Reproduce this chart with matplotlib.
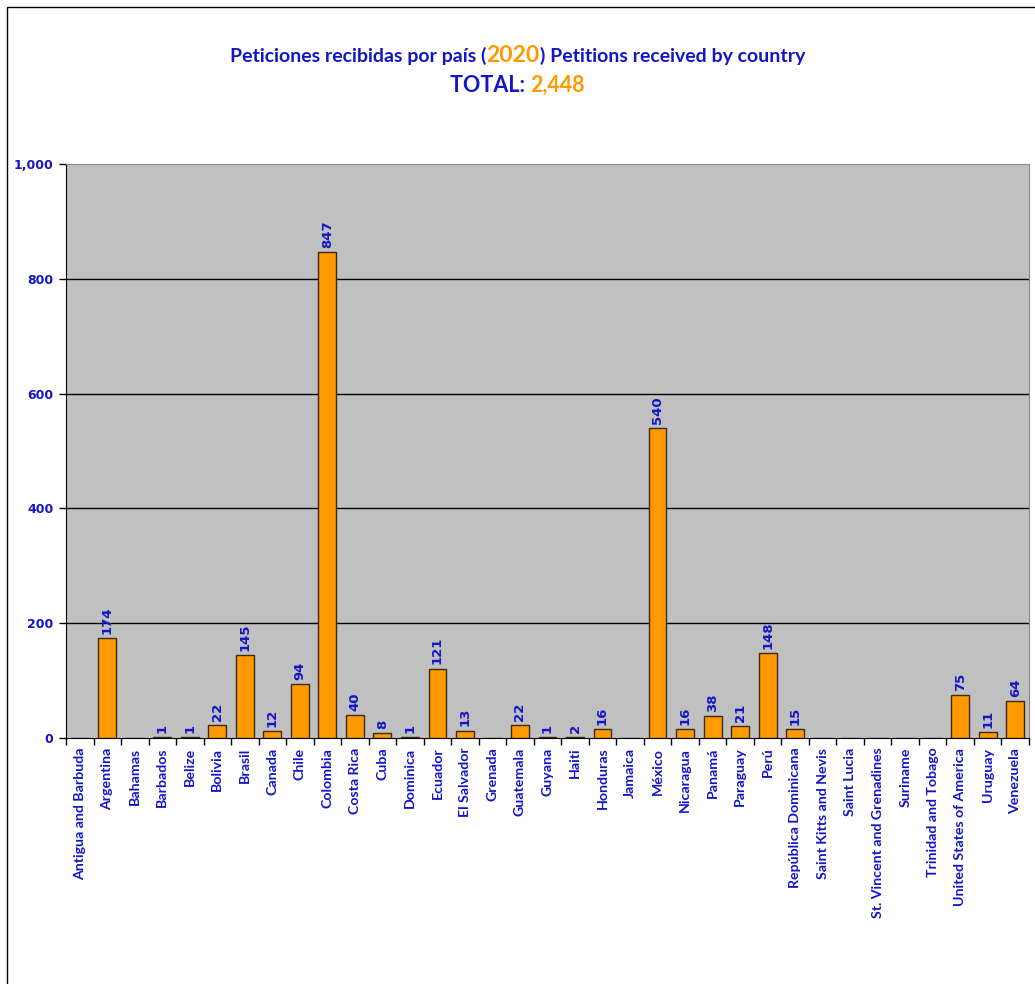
import numpy as np
import matplotlib
matplotlib.use("Agg")
import matplotlib.pyplot as plt
from matplotlib.patches import Rectangle

# data
countries = ["Antigua and Barbuda", "Argentina", "Bahamas", "Barbados", "Belize",
             "Bolivia", "Brasil", "Canada", "Chile", "Colombia", "Costa Rica", "Cuba",
             "Dominica", "Ecuador", "El Salvador", "Grenada", "Guatemala", "Guyana",
             "Haiti", "Honduras", "Jamaica", "México", "Nicaragua", "Panamá",
             "Paraguay", "Perú", "República Dominicana", "Saint Kitts and Nevis",
             "Saint Lucia", "St. Vincent and Grenadines", "Suriname",
             "Trinidad and Tobago", "United States of America", "Uruguay", "Venezuela"]
petitions = [0, 174, 0, 1, 1, 22, 145, 12, 94, 847, 40, 8, 1, 121, 13, 0, 22, 1,
             2, 16, 0, 540, 16, 38, 21, 148, 15, 0, 0, 0, 0, 0, 75, 11, 64]
y_ticks = [0, 200, 400, 600, 800, 1000]

blue = "#1414C8"
orange = "#FF9900"

fig = plt.figure(figsize=(10.35, 9.84), dpi=100)
ax = fig.add_axes([66/1035, 1-738/984, (1029-66)/1035, (738-164)/984])

#outer frame of the chart
fig.patches.append(Rectangle((7/1035, -0.1), 1.2, 1-7/984+0.1, transform=fig.transFigure,
                             fill=False, edgecolor="black", linewidth=1))

x_pos = np.arange(len(countries))
ax.set_facecolor("#C0C0C0")
bars = ax.bar(x_pos, petitions, width=0.65, color=orange, edgecolor="#3a2a10",
              linewidth=1, zorder=3)

ax.set_xlim(-0.5, len(countries) - 0.5)
ax.set_ylim(0, 1000)
ax.set_yticks(y_ticks)
ax.set_yticklabels(["{:,}".format(v) for v in y_ticks], color=blue,
                   fontsize=9, fontweight="bold", family="DejaVu Sans")
for v in y_ticks[1:-1]:
    ax.axhline(v, color="black", linewidth=1, zorder=1)

ax.set_xticks(x_pos)
ax.set_xticklabels(countries, rotation=90, color=blue, fontsize=10.2,
                   fontweight="bold", family="Lato")
ax.set_xticks(np.arange(len(countries) + 1) - 0.5, minor=True)
ax.tick_params(axis="x", which="major", length=0, pad=7)
ax.tick_params(axis="x", which="minor", length=5, width=1, direction="out")
ax.tick_params(axis="y", length=5, width=1, direction="out", pad=4)

ax.spines["left"].set_color("black")
ax.spines["bottom"].set_color("black")
ax.spines["top"].set_color("#888888")
ax.spines["right"].set_color("#888888")

#value labels on top of bars
for rect, val in zip(bars, petitions):
    if val == 0:
        continue
    ax.annotate(str(val), (rect.get_x() + rect.get_width() / 2, rect.get_height()),
                xytext=(0, 3), textcoords="offset points", rotation=90,
                ha="center", va="bottom", color=blue, fontsize=9.5,
                fontweight="bold", family="DejaVu Sans", zorder=4)

#title in pieces with two colours
def colored_line(parts, y):
    fig.canvas.draw()
    renderer = fig.canvas.get_renderer()
    texts = []
    total = 0
    for s, c, size in parts:
        t = fig.text(0, y, s, color=c, fontsize=size, fontweight="bold",
                     family="Lato", va="baseline")
        w = t.get_window_extent(renderer).width
        texts.append((t, w))
        total += w
    x = 1035 * 0.5 - total / 2
    for t, w in texts:
        t.set_x(x / 1035)
        x += w

colored_line([("Peticiones recibidas por país (", blue, 14),
              ("2020", orange, 16.5),
              (") Petitions received by country", blue, 14)], 1-62/984)
colored_line([("TOTAL: ", blue, 15.5), ("2,448", orange, 15.5)], 1-92/984)

plt.savefig("out.png", dpi=100)
